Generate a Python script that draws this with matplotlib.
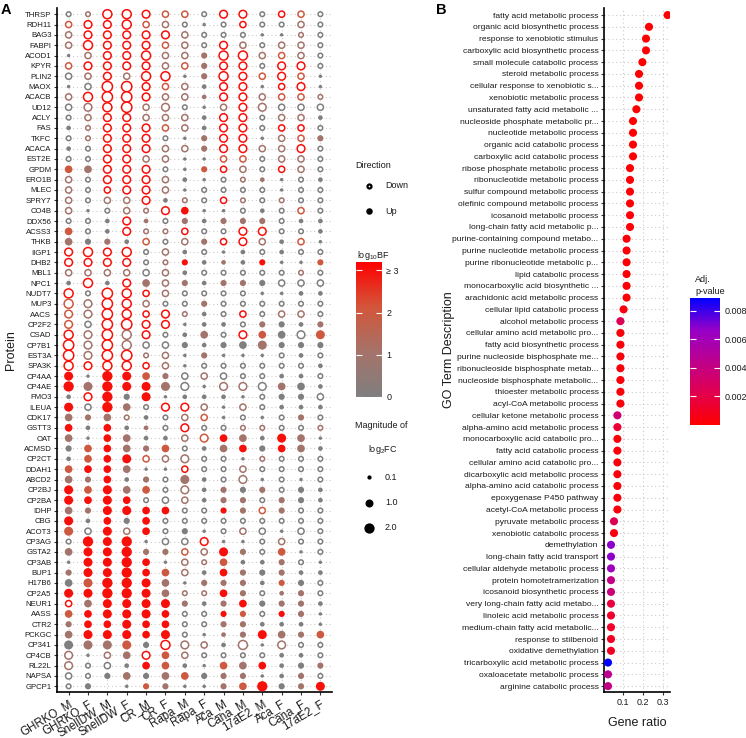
import matplotlib

matplotlib.use("Agg")
import matplotlib.pyplot as plt
import numpy as np
from matplotlib.cm import ScalarMappable
from matplotlib.colors import LinearSegmentedColormap, Normalize

plt.rcParams["font.family"] = ["Liberation Sans", "DejaVu Sans"]
plt.rcParams["mathtext.default"] = "regular"

W, H = 746, 738

# ---- panel A: protein x intervention dot matrix -------------------------
conditions = ["GHRKO_M", "GHRKO_F", "SnellDW_M", "SnellDW_F", "CR_M", "CR_F",
              "Rapa_M", "Rapa_F", "Aca_M", "Cana_M", "17aE2_M", "Aca_F",
              "Cana_F", "17aE2_F"]

proteins = ["THRSP", "RDH11", "BAG3", "FABPI", "ACOD1", "KPYR", "PLIN2", "MAOX",
            "ACACB", "UD12", "ACLY", "FAS", "TKFC", "ACACA", "EST2E", "GPDM",
            "ERO1B", "MLEC", "SPRY7", "CO4B", "DDX56", "ACSS3", "THKB", "IIGP1",
            "DHB2", "MBL1", "NPC1", "NUDT7", "MUP3", "AACS", "CP2F2", "CSAD",
            "CP7B1", "EST3A", "SPA3K", "CP4AA", "CP4AE", "FMO3", "ILEUA", "CDK17",
            "GSTT3", "OAT", "ACMSD", "CP2CT", "DDAH1", "ABCD2", "CP2BJ", "CP2BA",
            "IDHP", "CBG", "ACOT3", "CP3AG", "GSTA2", "CP3AB", "BUP1", "H17B6",
            "CP2A5", "NEUR1", "AASS", "CTR2", "PCKGC", "CP341", "CP4CB", "RL22L",
            "NAPSA", "GPCP1"]

# U = up (filled), D = down (open ring); one char per condition
direction = [
    "DDDDDDDDDDDDDD", "DDDDDDDUDDDDDD", "DDDDDDDDDDUUDD", "DDDDDDDDDDDDDD",
    "UDDDDDDUDDDDDD", "DDDDDDDUDDDDDD", "DDDDDDUUDDDDDU", "UDDDDDDUDDUDDU",
    "DDDDDDDUDDDDDD", "DDDDDDDUDDDDDD", "DDDDDDDUDDDDDU", "UDDDDDDUDDDDDD",
    "DDDDDDUUDDUDDU", "UDDDDDDUDDDDDD", "DDDDDDUUDDDDDD", "UUDDDDUUDDDDDD",
    "DDDDDDUUDDUUDU", "DDDDDDUDDDDUDD", "DDDDDUDDDDDDDD", "DUDDDDUUUDUDDD",
    "DDUDUDUUUUUDUU", "UDUDDDDDDDDDDU", "UUUUDDDUDDDUDU", "DDDDDDUDUUDUDD",
    "DDDDDDUUUUUUUU", "DDDDDDUDDDDDDD", "UDUDUDUUUUUDDD", "DDDDDDDDDDUUUU",
    "DDDDDDDUDDDDDD", "DDDDDDDUDDDDDD", "DDDDDDUUUDUUUU", "DDDDDDUUDDUUDU",
    "DDDDDDUUUUUUUU", "DDDDDDUUUUUDUD", "DDDDDDUDDDDDDU", "UUUUUUDDDDDUUD",
    "UUUUUUDUDDDUUU", "UDUUUUUUUUDUUD", "UDUUDDDDUDDUUU", "UUUDUDDDUDUDUD",
    "UUUUUDDDDDDDDD", "UUUUUUDDUUUUUU", "UUUUUUDUUUUUUU", "UUUUDDDDDUDDDD",
    "UUUUUUDDDDDDDD", "UUUUUDUUDDUDUD", "UUUUUDDUUUUDUU", "UUUUDDDUUUDUUU",
    "UUUUUUDDUUDUDD", "UUUUUDDDDDDDDD", "UDUDUDUUDDDUDD", "DUUUUDDDUUDDDD",
    "UUUUUUDDUUDUUD", "UUUUUUDDUUUUDU", "UUUUUUDUUUUUUU", "UUUUUUUUUUUUUD",
    "UUUUUUDDUUDUUD", "DUUUUUUUUUUUUU", "UUUUUUDDUUDUUU", "UUUUUUDDUUUUUU",
    "UUUUUUDUUUUUUU", "UUUUUDDDUDUDDD", "DUDUDUDDDDDUUD", "DDDUUUUUUUUUUU",
    "DDUUUUUUUUUUUD", "DUUUUUUUUUUUUU",
]

# log10 Bayes factor per cell (3 means >= 3)
log10bf = [
    "01333220330320", "23332100030010", "13333310000010", "13333210310110",
    "01333111331210", "23333121330330", "01313301332320", "00333210330330",
    "13333111331221", "01331100131000", "01331110330110", "01333210330330",
    "01333001330121", "00333111331130", "00331100220110", "21333002310310",
    "10333100011000", "10333100000000", "10113010310100", "10011330000020",
    "00031010111000", "20031130033000", "10102011331020", "33330100000000",
    "33330130103002", "11110100000010", "03031110110000", "30333100000000",
    "21331001000000", "21333310030110", "20333300001001", "31313001032002",
    "31310000001000", "31331101000000", "33333100000000", "30332101000000",
    "31333100110100", "03303000000000", "30310331010000", "11110012000010",
    "30301030011001", "10310012310310", "02311200130310", "02332110001000",
    "23310030010000", "11301010010000", "32312010101000", "33330010110100",
    "11333300312100", "30303000000000", "20313000010000", "03330003000100",
    "13331121310200", "03333011200100", "13333210310100", "02333101110200",
    "33333111310110", "31333310130110", "23333300320310", "13333300110000",
    "13333300113112", "01120311010100", "10113210000000", "10003200213001",
    "00010120110010", "00002100123013",
]

# |log2FC| bin per cell, decoded with MAG_BINS (0 = no estimate)
log2fc_mag = [
    "22554332442332", "34453321232232", "34444432221122", "35444332432332",
    "13445333553332", "34444333442442", "33435513543431", "13664332441341",
    "35664332443332", "34563421344333", "23443332442332", "22444332442332",
    "22444213441333", "22444333443342", "22443311332332", "44444213332332",
    "32444321222122", "32344312222122", "32334222322222", "31232441122232",
    "22242232333222", "42242232244222", "43323233343231", "45452322122222",
    "44442232223113", "33333322222222", "25244332333333", "52653322221122",
    "54653223222222", "44653422232332", "43664412223323", "54654224244445",
    "64653332345333", "64662313111222", "54553312222222", "51654333322222",
    "65655541444442", "24635122212333", "53642443132222", "43422233121232",
    "42422242222222", "41442234442541", "34443422443442", "24453342212222",
    "44441132232222", "43423252241212", "54544242333232", "54542332332332",
    "43554422333322", "52434222222222", "53534231233132", "26561334112322",
    "45563333532412", "15564132422321", "35564432433322", "45665413332332",
    "55665422432232", "34555532343332", "44555422332331", "34454422332221",
    "45554521235434", "55553543251422", "41344432222222", "42324421444233",
    "32343443331232", "23013311346335",
]
MAG_BINS = {"1": 0.03, "2": 0.15, "3": 0.45, "4": 0.9, "5": 1.4, "6": 2.0}
legend_mags = [0.1, 1.0, 2.0]

# ---- panel B: GO enrichment -------------------------------------------------
go_terms = [
    "fatty acid metabolic process", "organic acid biosynthetic process",
    "response to xenobiotic stimulus", "carboxylic acid biosynthetic process",
    "small molecule catabolic process", "steroid metabolic process",
    "cellular response to xenobiotic s...", "xenobiotic metabolic process",
    "unsaturated fatty acid metabolic ...", "nucleoside phosphate metabolic pr...",
    "nucleotide metabolic process", "organic acid catabolic process",
    "carboxylic acid catabolic process", "ribose phosphate metabolic process",
    "ribonucleotide metabolic process", "sulfur compound metabolic process",
    "olefinic compound metabolic process", "icosanoid metabolic process",
    "long-chain fatty acid metabolic p...", "purine-containing compound metabo...",
    "purine nucleotide metabolic process", "purine ribonucleotide metabolic p...",
    "lipid catabolic process", "monocarboxylic acid biosynthetic ...",
    "arachidonic acid metabolic process", "cellular lipid catabolic process",
    "alcohol metabolic process", "cellular amino acid metabolic pro...",
    "fatty acid biosynthetic process", "purine nucleoside bisphosphate me...",
    "ribonucleoside bisphosphate metab...", "nucleoside bisphosphate metabolic...",
    "thioester metabolic process", "acyl-CoA metabolic process",
    "cellular ketone metabolic process", "alpha-amino acid metabolic process",
    "monocarboxylic acid catabolic pro...", "fatty acid catabolic process",
    "cellular amino acid catabolic pro...", "dicarboxylic acid metabolic process",
    "alpha-amino acid catabolic process", "epoxygenase P450 pathway",
    "acetyl-CoA metabolic process", "pyruvate metabolic process",
    "xenobiotic catabolic process", "demethylation",
    "long-chain fatty acid transport", "cellular aldehyde metabolic process",
    "protein homotetramerization", "icosanoid biosynthetic process",
    "very long-chain fatty acid metabo...", "linoleic acid metabolic process",
    "medium-chain fatty acid metabolic...", "response to stilbenoid",
    "oxidative demethylation", "tricarboxylic acid metabolic process",
    "oxaloacetate metabolic process", "arginine catabolic process",
]
gene_ratio = [0.323, 0.230, 0.215, 0.215, 0.197, 0.180, 0.180, 0.180, 0.167,
              0.150, 0.150, 0.150, 0.150, 0.135, 0.135, 0.135, 0.135, 0.135,
              0.135, 0.118, 0.118, 0.118, 0.118, 0.118, 0.118, 0.103, 0.087,
              0.087, 0.087, 0.087, 0.087, 0.087, 0.087, 0.087, 0.072, 0.072,
              0.072, 0.072, 0.072, 0.072, 0.072, 0.072, 0.072, 0.055, 0.055,
              0.040, 0.040, 0.040, 0.040, 0.040, 0.040, 0.040, 0.040, 0.040,
              0.040, 0.025, 0.025, 0.025]
adj_pvalue = [0.0001, 0.0001, 0.0001, 0.0001, 0.0001, 0.0001, 0.0001, 0.0001,
              0.0001, 0.0001, 0.0001, 0.0001, 0.0001, 0.0002, 0.0002, 0.0002,
              0.0002, 0.0002, 0.0002, 0.0002, 0.0002, 0.0002, 0.0002, 0.0002,
              0.0002, 0.0004, 0.0025, 0.0003, 0.0003, 0.0003, 0.0003, 0.0003,
              0.0003, 0.0003, 0.0035, 0.0015, 0.0003, 0.0003, 0.0003, 0.0003,
              0.0003, 0.0003, 0.0003, 0.0025, 0.0005, 0.0068, 0.0068, 0.0063,
              0.0042, 0.0038, 0.0018, 0.0012, 0.0012, 0.0010, 0.0010, 0.0089,
              0.0045, 0.0042]


def px_box(x0, y0, x1, y1):
    return [x0 / W, 1 - y1 / H, (x1 - x0) / W, (y1 - y0) / H]


def dot_area(mag):
    # ggplot-like size scale: diameter (px) grows with sqrt(|log2FC|)
    diam_px = 2.5 + 5.5 * np.sqrt(np.asarray(mag, dtype=float))
    return (diam_px * 0.72) ** 2


cmap_bf = LinearSegmentedColormap.from_list(
    "bf", ["#7f7f7f", "#a5736a", "#d2563a", "#ff0000"])
norm_bf = Normalize(0, 3.2)
cmap_p = LinearSegmentedColormap.from_list(
    "padj", ["#ff0000", "#e2004e", "#be008c", "#9600c8", "#0000ff"])
norm_p = Normalize(0, 0.0089)

GRID = dict(color="#cccccc", linestyle=(0, (1, 2.5)), linewidth=0.8)
TXT = "#1a1a1a"

fig = plt.figure(figsize=(W / 100, H / 100), dpi=100)

# ---------------- panel A ----------------
axA = fig.add_axes(px_box(57, 8, 332, 692))
n_rows, n_cols = len(proteins), len(conditions)
rr, cc, bf, mag, up = [], [], [], [], []
for i in range(n_rows):
    for j in range(n_cols):
        code = log2fc_mag[i][j]
        if code == "0":
            continue
        rr.append(i)
        cc.append(j)
        bf.append(float(log10bf[i][j]))
        mag.append(MAG_BINS[code])
        up.append(direction[i][j] == "U")
rr, cc, bf, mag, up = map(np.array, (rr, cc, bf, mag, up))

axA.scatter(cc[up], rr[up], s=dot_area(mag[up]), c=bf[up], cmap=cmap_bf,
            norm=norm_bf, linewidths=0, zorder=3)
axA.scatter(cc[~up], rr[~up], s=dot_area(mag[~up]), facecolors="white",
            edgecolors=cmap_bf(norm_bf(bf[~up])), linewidths=1.1, zorder=3)

axA.set_xlim(-0.6, n_cols - 0.4)
axA.set_ylim(n_rows - 0.45, -0.6)
axA.set_xticks(range(n_cols))
axA.set_xticklabels(conditions, rotation=31, ha="right", va="top",
                    rotation_mode="anchor", fontsize=8.3, color=TXT)
axA.set_yticks(range(n_rows))
axA.set_yticklabels(proteins, fontsize=5.6, color=TXT)
axA.grid(True, **GRID)
axA.set_axisbelow(True)
axA.set_ylabel("Protein", fontsize=9, color=TXT)
axA.yaxis.set_label_coords((17 - 57) / 275, 0.5)

# ---------------- panel B ----------------
axB = fig.add_axes(px_box(604, 8, 670, 692))
yb = np.arange(len(go_terms))
axB.scatter(gene_ratio, yb, s=34, c=adj_pvalue, cmap=cmap_p, norm=norm_p,
            linewidths=0, zorder=3)
axB.set_xlim(0.005, 0.335)
axB.set_ylim(len(go_terms) - 0.5, -0.6)
axB.set_xticks([0.1, 0.2, 0.3])
axB.set_xticklabels(["0.1", "0.2", "0.3"], fontsize=6.5, color=TXT)
axB.set_yticks(yb)
axB.set_yticklabels(go_terms, fontsize=6.1, color=TXT)
axB.grid(True, **GRID)
axB.set_axisbelow(True)
axB.set_xlabel("Gene ratio", fontsize=9, color=TXT)
axB.xaxis.set_label_coords(0.5, -25 / 684)
axB.set_ylabel("GO Term Description", fontsize=9, color=TXT)
axB.yaxis.set_label_coords((455 - 604) / 66, 0.5)

for ax in (axA, axB):
    for side in ("top", "right"):
        ax.spines[side].set_visible(False)
    for side in ("left", "bottom"):
        ax.spines[side].set_linewidth(1.2)
        ax.spines[side].set_color("black")
    ax.tick_params(length=2.5, width=0.8, color="#333333", pad=1.5)

# ---------------- colourbars ----------------
caxA = fig.add_axes(px_box(356, 262, 382, 397))
cbA = fig.colorbar(ScalarMappable(norm=norm_bf, cmap=cmap_bf), cax=caxA)
cbA.set_ticks([0, 1, 2, 3])
cbA.set_ticklabels(["0", "1", "2", "\u2265 3"])
caxB = fig.add_axes(px_box(690, 298, 720, 425))
cbB = fig.colorbar(ScalarMappable(norm=norm_p, cmap=cmap_p), cax=caxB)
cbB.set_ticks([0.002, 0.004, 0.006, 0.008])
cbB.set_ticklabels(["0.002", "0.004", "0.006", "0.008"])
for cb in (cbA, cbB):
    cb.outline.set_visible(False)
    cb.ax.tick_params(direction="in", color="white", length=4, width=0.8,
                      left=True, right=True, labelsize=6.5, labelcolor=TXT,
                      pad=3)

# ---------------- legend + panel letters (pixel overlay) ----------------
ov = fig.add_axes([0, 0, 1, 1], facecolor="none")
ov.set_xlim(0, W)
ov.set_ylim(H, 0)
ov.axis("off")

ov.text(1, 10, "A", fontsize=10.5, fontweight="bold", va="center")
ov.text(436, 10, "B", fontsize=10.5, fontweight="bold", va="center")

small = dict(fontsize=6.5, color=TXT, va="center", ha="left")
ov.text(355, 165, "Direction", **small)
ov.scatter([369], [186], s=(4.0 * 0.72) ** 2, facecolors="white",
           edgecolors="black", linewidths=1.6)
ov.text(385, 186, "Down", **small)
ov.scatter([369], [211], s=(6.5 * 0.72) ** 2, color="black", linewidths=0)
ov.text(385, 211, "Up", **small)

ov.text(357, 256, "log$_{10}$BF", **small)

ov.text(355, 425, "Magnitude of", **small)
ov.text(368, 450, "log$_{2}$FC", **small)
for k, m in enumerate(legend_mags):
    yk = 477 + 25.5 * k
    ov.scatter([369], [yk], s=dot_area(m), color="black", linewidths=0)
    ov.text(385, yk, f"{m:.1f}", **small)

ov.text(695, 280, "Adj.", **small)
ov.text(695, 291, "p-value", **small)

fig.savefig("out.png", dpi=100)
